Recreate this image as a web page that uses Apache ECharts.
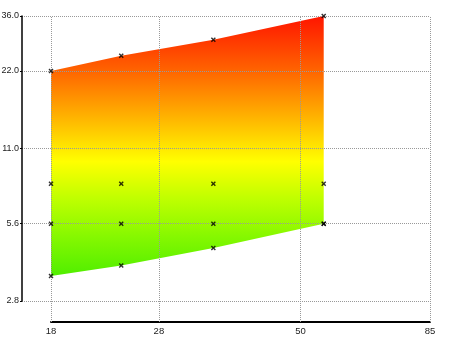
<!DOCTYPE html>
<html><head><meta charset="utf-8">
<script src="https://cdn.jsdelivr.net/npm/echarts@6/dist/echarts.min.js"></script>
<style>html,body{margin:0;padding:0;background:#fff}#c{width:450px;height:337px}</style>
</head><body><div id="c"></div>
<script>
const xValues = [18, 24, 35, 55];
const upperValues = [22, 25.2, 29.1, 36];
const row8Values = [8, 8, 8, 8];
const row56Values = [5.6, 5.6, 5.6, 5.6];
const lowerValues = [3.5, 3.85, 4.5, 5.6];
const xTicks = [18, 28, 50, 85];
const yTicks = [2.8, 5.6, 11, 22, 36];
const yTickLabels = ['2.8', '5.6', '11.0', '22.0', '36.0'];

const chart = echarts.init(document.getElementById('c'), null, {renderer: 'canvas'});
const font = '"Liberation Sans", Arial, sans-serif';
const dotted = {color: '#999', width: 1, type: [1, 1]};

const bandData = xValues.map((x, i) => [x, upperValues[i], lowerValues[i]]);
const markerData = [];
[upperValues, row8Values, row56Values, lowerValues].forEach(arr => {
  xValues.forEach((x, i) => markerData.push([x, arr[i]]));
});

const gradStops = [
  {offset: 0, color: '#ff1500'},
  {offset: 0.2, color: '#ff6000'},
  {offset: 0.4, color: '#ffb800'},
  {offset: 0.56, color: '#ffff00'},
  {offset: 0.7, color: '#c0ff00'},
  {offset: 0.85, color: '#85f800'},
  {offset: 1, color: '#50ee00'}
];

function renderBand(params, api) {
  if (params.dataIndex !== 0) return null;
  const top = [], bottom = [];
  for (let i = 0; i < bandData.length; i++) {
    top.push(api.coord([bandData[i][0], bandData[i][1]]));
    bottom.push(api.coord([bandData[i][0], bandData[i][2]]));
  }
  const pts = top.concat(bottom.reverse());
  return {
    type: 'polygon',
    shape: {points: pts},
    style: {fill: new echarts.graphic.LinearGradient(0, 0, 0, 1, gradStops), stroke: null}
  };
}

chart.setOption({
  animation: false,
  backgroundColor: '#fff',
  grid: [
    {left: 22, right: 20, top: 16, bottom: 36, outerBoundsMode: 'none'},
    {left: 51, right: 20, top: 16, bottom: 36, outerBoundsMode: 'none'}
  ],
  xAxis: [
    {gridIndex: 0, type: 'value', show: false, min: 0, max: 1},
    {
      gridIndex: 1, type: 'log', min: 18, max: 85, offset: 21, z: 3,
      axisLine: {show: true, lineStyle: {color: '#000', width: 2}},
      axisTick: {show: true, inside: true, length: 306, customValues: xTicks, lineStyle: dotted},
      axisLabel: {show: true, customValues: xTicks, margin: 4, color: '#222', fontSize: 9.5, fontFamily: font,
        formatter: v => String(Math.round(v))},
      splitLine: {show: false}, minorTick: {show: false}, minorSplitLine: {show: false}
    }
  ],
  yAxis: [
    {
      gridIndex: 0, type: 'log', min: 2.8, max: 36, z: 3,
      axisLine: {show: true, lineStyle: {color: '#000', width: 1.5}},
      axisTick: {show: true, inside: false, length: 2, customValues: yTicks, lineStyle: {color: '#000'}},
      axisLabel: {show: true, customValues: yTicks, margin: 3, color: '#222', fontSize: 9, fontFamily: font,
        formatter: v => {
          const i = yTicks.findIndex(t => Math.abs(t - v) < 1e-6 * t + 1e-9);
          return i >= 0 ? yTickLabels[i] : v.toFixed(1);
        }},
      splitLine: {show: true, lineStyle: dotted}
    },
    {gridIndex: 1, type: 'log', min: 2.8, max: 36, show: false}
  ],
  series: [
    {
      type: 'custom', xAxisIndex: 1, yAxisIndex: 1, data: bandData, renderItem: renderBand,
      z: 1, silent: true, clip: false,
      encode: {x: 0, y: [1, 2]}
    },
    {
      type: 'scatter', xAxisIndex: 1, yAxisIndex: 1, data: markerData, z: 5,
      symbol: 'path://M0,1L1,0L2.5,1.5L4,0L5,1L3.5,2.5L5,4L4,5L2.5,3.5L1,5L0,4L1.5,2.5Z',
      symbolSize: 5, itemStyle: {color: '#000'}
    }
  ]
});
</script></body></html>
